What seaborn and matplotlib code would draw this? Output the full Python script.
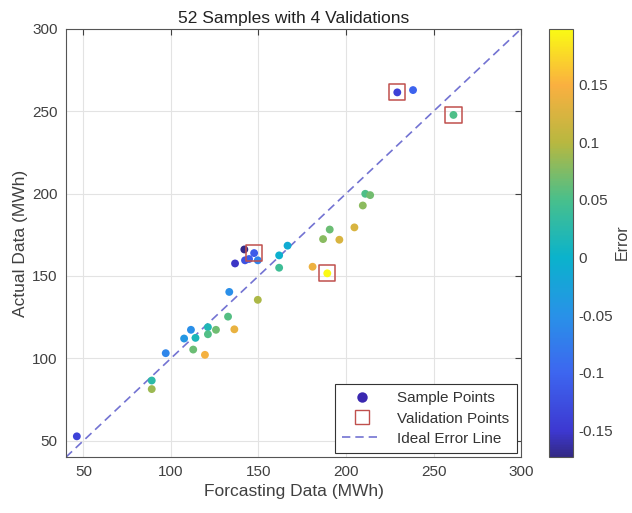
import numpy as np
import pandas as pd
import matplotlib
matplotlib.use("Agg")
import matplotlib.pyplot as plt
import seaborn as sns
from matplotlib.colors import LinearSegmentedColormap, Normalize
from matplotlib.cm import ScalarMappable
from matplotlib.lines import Line2D

# ----------------------------------------
# Data
# ----------------------------------------

forecast = [229.3, 238.3, 261.4, 211.0, 213.8, 209.6, 204.8, 190.7, 186.9, 196.2,
            180.9, 189.3, 166.6, 161.8, 161.8, 141.9, 147.5, 136.6, 142.3, 144.6,
            149.6, 133.3, 149.6, 132.6, 111.4, 121.1, 121.1, 125.7, 136.2, 107.5,
            114.0, 112.7, 119.4, 97.0, 89.0, 89.0, 46.2]
actual = [261.5, 262.9, 247.8, 199.9, 199.1, 192.8, 179.5, 178.2, 172.4, 172.0,
          155.6, 151.6, 168.4, 162.5, 155.0, 166.1, 163.9, 157.6, 159.5, 160.3,
          159.5, 140.3, 135.5, 125.3, 117.3, 118.9, 114.6, 117.3, 117.6, 112.0,
          112.4, 105.3, 102.1, 103.1, 86.5, 81.3, 52.6]
error = [-0.140, -0.103, 0.052, 0.053, 0.069, 0.080, 0.124, 0.066, 0.078, 0.123,
         0.140, 0.198, -0.011, -0.004, 0.042, -0.171, -0.111, -0.154, -0.121, -0.109,
         -0.066, -0.053, 0.094, 0.055, -0.053, 0.018, 0.054, 0.067, 0.137, -0.042,
         0.014, 0.066, 0.145, -0.063, 0.028, 0.087, -0.139]

val_x = [229.3, 261.4, 189.3, 147.5]
val_y = [261.5, 247.8, 151.6, 163.9]

ideal = [40, 300]
err_min, err_max = -0.173, 0.198
cbar_ticks = [-0.15, -0.1, -0.05, 0, 0.05, 0.1, 0.15]
cbar_labels = ["-0.15", "-0.1", "-0.05", "0", "0.05", "0.1", "0.15"]

df = pd.DataFrame({"Forecast": forecast, "Actual": actual, "Error": error})

# ----------------------------------------
# Parula-like colormap (tuned to the screenshot)
# ----------------------------------------

parula = LinearSegmentedColormap.from_list("parula_like", [
    (0.00, (0.20, 0.16, 0.52)),
    (0.06, (0.24, 0.22, 0.82)),
    (0.196, (0.24, 0.40, 0.94)),
    (0.33, (0.16, 0.57, 0.91)),
    (0.466, (0.04, 0.70, 0.80)),
    (0.60, (0.28, 0.75, 0.55)),
    (0.735, (0.72, 0.72, 0.25)),
    (0.87, (0.98, 0.69, 0.25)),
    (1.00, (0.98, 0.98, 0.08)),
])
norm = Normalize(vmin=err_min, vmax=err_max)

# ----------------------------------------
# Visualization
# ----------------------------------------

sns.set_style("white")
plt.rcParams["font.family"] = ["Liberation Sans", "DejaVu Sans"]
text_color = "#404040"

fig = plt.figure(figsize=(6.32, 5.13), dpi=100)
ax = fig.add_axes([0.1044, 0.109, 0.72, 0.8345])
cax = fig.add_axes([0.868, 0.109, 0.038, 0.8345])

# Ideal error line
ax.plot(ideal, ideal, linestyle=(0, (5, 3)), color="#7373d2", linewidth=1.2, zorder=1)

# Sample points
sns.scatterplot(
    data=df, x="Forecast", y="Actual", hue="Error",
    palette=parula, hue_norm=norm, s=32, edgecolor="none",
    legend=False, ax=ax, zorder=3
)

# Validation points
ax.scatter(val_x, val_y, marker="s", s=135, facecolors="none",
           edgecolors="#c0504d", linewidths=1.1, zorder=4)

ax.set_xlim(40, 300)
ax.set_ylim(40, 300)
ax.set_xticks([50, 100, 150, 200, 250, 300])
ax.set_yticks([50, 100, 150, 200, 250, 300])
ax.grid(True, color="#e3e3e3", linewidth=0.8)
ax.set_axisbelow(True)
ax.tick_params(direction="in", top=True, right=True, length=4, width=0.8,
               labelsize=11, colors=text_color, pad=6)
for sp in ax.spines.values():
    sp.set_color("#555555")
    sp.set_linewidth(0.8)

ax.set_title("52 Samples with 4 Validations", fontsize=12.5, color="#222222", pad=4)
ax.set_xlabel("Forcasting Data (MWh)", fontsize=12.5, color=text_color, labelpad=3)
ax.set_ylabel("Actual Data (MWh)", fontsize=12.5, color=text_color, labelpad=3)

# Legend
handles = [
    Line2D([], [], marker="o", linestyle="none", markersize=7.5,
           markerfacecolor="#3a28b0", markeredgecolor="none", label="Sample Points"),
    Line2D([], [], marker="s", linestyle="none", markersize=10,
           markerfacecolor="none", markeredgecolor="#c0504d", label="Validation Points"),
    Line2D([], [], linestyle=(0, (5, 3)), color="#7373d2", linewidth=1.2,
           label="Ideal Error Line"),
]
leg = ax.legend(handles=handles, loc="lower right", fontsize=11, frameon=True,
                fancybox=False, framealpha=1, edgecolor="#333333",
                borderaxespad=0.25, handlelength=2.6, handletextpad=1.0,
                labelspacing=0.4, borderpad=0.5)
leg.get_frame().set_linewidth(0.8)
for t in leg.get_texts():
    t.set_color("#333333")

# Colorbar
sm = ScalarMappable(norm=norm, cmap=parula)
cb = fig.colorbar(sm, cax=cax)
cb.set_ticks(cbar_ticks)
cb.set_ticklabels(cbar_labels)
cb.ax.tick_params(direction="in", length=3, width=0.8, labelsize=11,
                  colors=text_color, pad=4)
cb.outline.set_edgecolor("#555555")
cb.outline.set_linewidth(0.8)
fig.text(0.984, 0.527, "Error", rotation=90, ha="center", va="center",
         fontsize=11.5, color=text_color)

fig.savefig("out.png", dpi=100)
